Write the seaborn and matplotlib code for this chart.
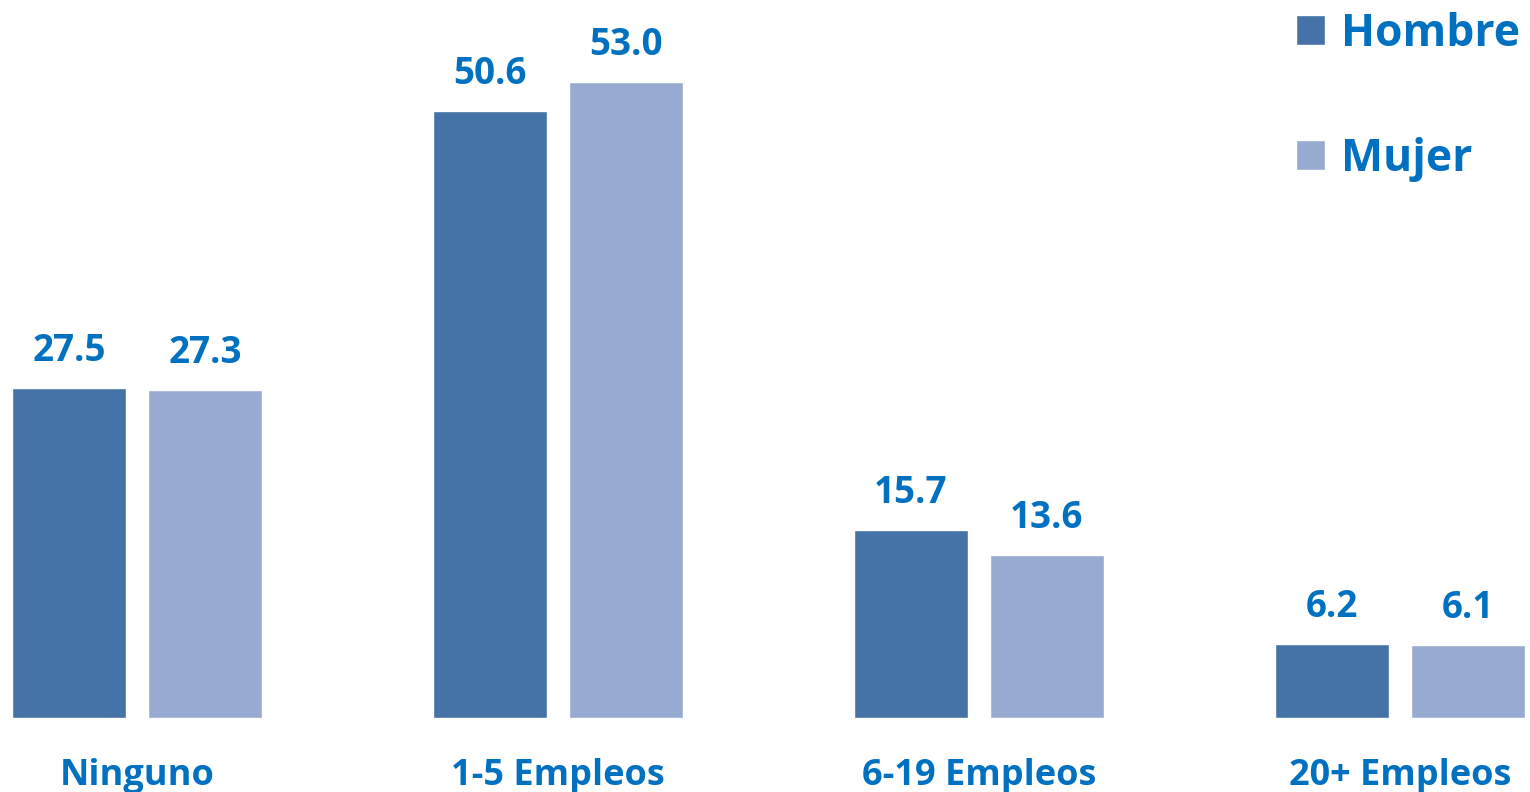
import matplotlib
matplotlib.use("Agg")
import matplotlib.pyplot as plt
import seaborn as sns
import pandas as pd

categories = ["Ninguno", "1-5 Empleos", "6-19 Empleos", "20+ Empleos"]
hombre = [27.5, 50.6, 15.7, 6.2]
mujer = [27.3, 53.0, 13.6, 6.1]
series = ["Hombre", "Mujer"]

text_blue = "#0070C0"
colors = {"Hombre": "#4573A7", "Mujer": "#97ABD0"}

df = pd.DataFrame({
    "categoria": categories * 2,
    "sexo": ["Hombre"] * len(categories) + ["Mujer"] * len(categories),
    "valor": hombre + mujer,
})

sns.set_style("white")
plt.rcParams["font.family"] = ["Open Sans", "DejaVu Sans"]
plt.rcParams["font.weight"] = "bold"

fig = plt.figure(figsize=(15.3, 7.92), dpi=100)
ax = fig.add_axes([0, 74 / 792, 1, 718 / 792])

sns.barplot(data=df, x="categoria", y="valor", hue="sexo", order=categories,
            hue_order=series, palette=colors, width=0.646, gap=0.161,
            saturation=1, ax=ax)

# etiquetas de valor encima de cada barra
for cont in ax.containers:
    ax.bar_label(cont, fmt="%.1f", padding=13, fontsize=26.5,
                 color=text_blue, fontweight="bold")

ax.set_xlim(-0.325, 3.309)
ax.set_ylim(0, 718 / 12)
ax.set_xlabel("")
ax.set_ylabel("")
ax.set_yticks([])
ax.tick_params(axis="x", length=0, pad=29, labelsize=26, labelcolor=text_blue)
for lab in ax.get_xticklabels():
    lab.set_fontweight("bold")
sns.despine(ax=ax, left=True, bottom=True)

handles, labels = ax.get_legend_handles_labels()
leg = ax.legend(handles, labels, loc="upper left", bbox_to_anchor=(1278 / 1530, 1 + 6 / 718),
                frameon=False, fontsize=32, handlelength=0.66, handleheight=0.66,
                handletextpad=0.35, labelspacing=1.8, borderaxespad=0)
for t in leg.get_texts():
    t.set_color(text_blue)
    t.set_fontweight("bold")

fig.savefig("out.png", dpi=100)
